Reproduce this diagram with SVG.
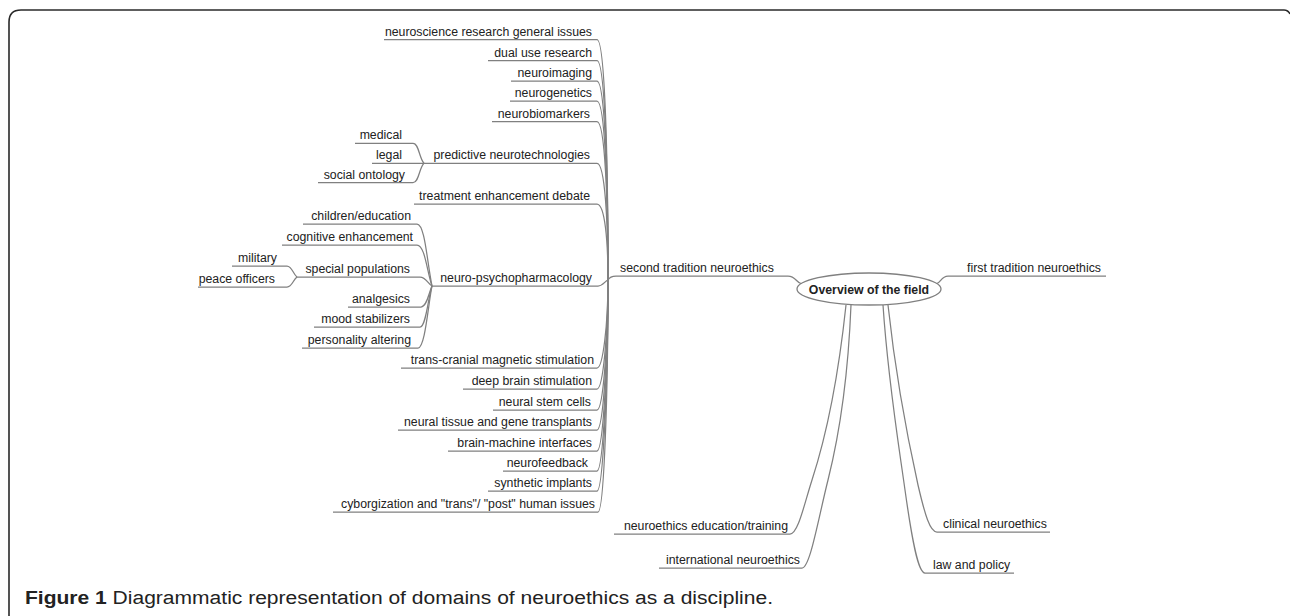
<svg xmlns="http://www.w3.org/2000/svg" width="1290" height="616" viewBox="0 0 1290 616">
<style>
.t{font-family:"Liberation Sans",Arial,sans-serif;font-size:12.3px;fill:#222}
.e{text-anchor:end}
.c{fill:none;stroke:#808080;stroke-width:1.25}
.cap{font-family:"Liberation Sans",Arial,sans-serif;font-size:18px;fill:#222}
</style>
<rect width="1290" height="616" fill="#fff"/>
<path d="M9,616 V22 Q9,10 21,10 H1284 Q1288,10 1290,14" fill="none" stroke="#2a2a2a" stroke-width="1.6"/>

<g id="connectors" class="c">
<path d="M384,39.5 H597 C605,39.5 608,160 608,280"/>
<path d="M488,60.7 H597 C605,60.7 608,170 608,280"/>
<path d="M511,81 H597 C605,81 608,180 608,280"/>
<path d="M510,101 H597 C605,101 608,190 608,280"/>
<path d="M492,121.7 H597 C605,121.7 608,200 608,280"/>
<path d="M424,163.3 H597 C605,163.3 608,222 608,280"/>
<path d="M414,204 H597 C605,204 608,242 608,280"/>
<path d="M432,286 H598 C603,286 605,281 608,280"/>
<path d="M401,368 H597 C603,368 608,324 608,280"/>
<path d="M463,389 H597 C603,389 608,334 608,280"/>
<path d="M493,410 H597 C603,410 608,345 608,280"/>
<path d="M398,430 H597 C603,430 608,355 608,280"/>
<path d="M448,451 H597 C603,451 608,365 608,280"/>
<path d="M503,471 H597 C603,471 608,375 608,280"/>
<path d="M488,491 H597 C603,491 608,385 608,280"/>
<path d="M333,512 H598 C604,512 608,396 608,280"/>
<path d="M355,143.3 H413 C419,143.3 419,158 424,163.3"/>
<path d="M372,163.3 H424"/>
<path d="M318,182.7 H413 C419,182.7 419,168 424,163.3"/>
<path d="M303,224 H417 C425,224 427,262 432,286"/>
<path d="M282,245 H417 C425,245 427,272 432,286"/>
<path d="M297,277 H420 C426,277 428,284 432,286"/>
<path d="M348,307 H421 C427,307 429,292 432,286"/>
<path d="M314,327 H420 C426,327 428,298 432,286"/>
<path d="M302,348 H418 C425,348 428,306 432,286"/>
<path d="M232,266 H287 C292,266 293,274 297,277"/>
<path d="M198,287 H287 C292,287 293,280 297,277"/>
<path d="M608,280 Q610,276 616,276 H788 C796,276 796,283 802,284"/>
<path d="M936,284 C941,283 941,276 948,276 H1106"/>
<path d="M846,305 C838,380 825,440 812,480 C804,505 798,534 790,534 H614"/>
<path d="M851,305 C848,380 838,440 828,480 C818,520 810,568 802,568 H659"/>
<path d="M888,305 C895,370 908,440 918,485 C925,515 930,532 937,532 H1050"/>
<path d="M883,305 C888,380 898,440 905,490 C912,540 918,573 925,573 H1014"/>
</g>

<g id="root">
<ellipse cx="869" cy="289" rx="72" ry="16" fill="#fff" stroke="#808080" stroke-width="1.3"/>
<text x="869" y="293.5" class="t" style="font-weight:bold;text-anchor:middle">Overview of the field</text>
</g>
<g id="n-first"><text x="967" y="272" class="t">first tradition neuroethics</text></g>
<g id="n-second"><text x="620" y="272" class="t">second tradition neuroethics</text></g>
<g id="n-edu"><text x="788" y="530" class="t e">neuroethics education/training</text></g>
<g id="n-intl"><text x="800" y="564" class="t e">international neuroethics</text></g>
<g id="n-clin"><text x="943" y="528" class="t">clinical neuroethics</text></g>
<g id="n-law"><text x="933" y="569" class="t">law and policy</text></g>

<g id="n-general"><text x="592" y="35.5" class="t e">neuroscience research general issues</text></g>
<g id="n-dual"><text x="592" y="56.7" class="t e">dual use research</text></g>
<g id="n-imaging"><text x="592" y="77" class="t e">neuroimaging</text></g>
<g id="n-genetics"><text x="592" y="97" class="t e">neurogenetics</text></g>
<g id="n-biomarkers"><text x="590" y="117.7" class="t e">neurobiomarkers</text></g>
<g id="n-predictive"><text x="590" y="159.3" class="t e">predictive neurotechnologies</text></g>
<g id="n-medical"><text x="402" y="139.3" class="t e">medical</text></g>
<g id="n-legal"><text x="402" y="159.3" class="t e">legal</text></g>
<g id="n-social"><text x="405" y="178.7" class="t e">social ontology</text></g>
<g id="n-treatment"><text x="590" y="200" class="t e">treatment enhancement debate</text></g>
<g id="n-psycho"><text x="592" y="282" class="t e">neuro-psychopharmacology</text></g>
<g id="n-children"><text x="411" y="220" class="t e">children/education</text></g>
<g id="n-cognitive"><text x="413" y="241" class="t e">cognitive enhancement</text></g>
<g id="n-special"><text x="410" y="273" class="t e">special populations</text></g>
<g id="n-military"><text x="277" y="262" class="t e">military</text></g>
<g id="n-peace"><text x="275" y="283" class="t e">peace officers</text></g>
<g id="n-analgesics"><text x="410" y="303" class="t e">analgesics</text></g>
<g id="n-mood"><text x="410" y="323" class="t e">mood stabilizers</text></g>
<g id="n-personality"><text x="411" y="344" class="t e">personality altering</text></g>
<g id="n-tms"><text x="594" y="364" class="t e">trans-cranial magnetic stimulation</text></g>
<g id="n-dbs"><text x="592" y="385" class="t e">deep brain stimulation</text></g>
<g id="n-stem"><text x="591" y="406" class="t e">neural stem cells</text></g>
<g id="n-tissue"><text x="592" y="426" class="t e">neural tissue and gene transplants</text></g>
<g id="n-bmi"><text x="592" y="447" class="t e">brain-machine interfaces</text></g>
<g id="n-feedback"><text x="588" y="467" class="t e">neurofeedback</text></g>
<g id="n-synthetic"><text x="592" y="487" class="t e">synthetic implants</text></g>
<g id="n-cyborg"><text x="595" y="508" class="t e">cyborgization and "trans"/ "post" human issues</text></g>

<text x="25" y="604" class="cap" textLength="748" lengthAdjust="spacingAndGlyphs"><tspan style="font-weight:bold">Figure 1</tspan> Diagrammatic representation of domains of neuroethics as a discipline.</text>
</svg>
